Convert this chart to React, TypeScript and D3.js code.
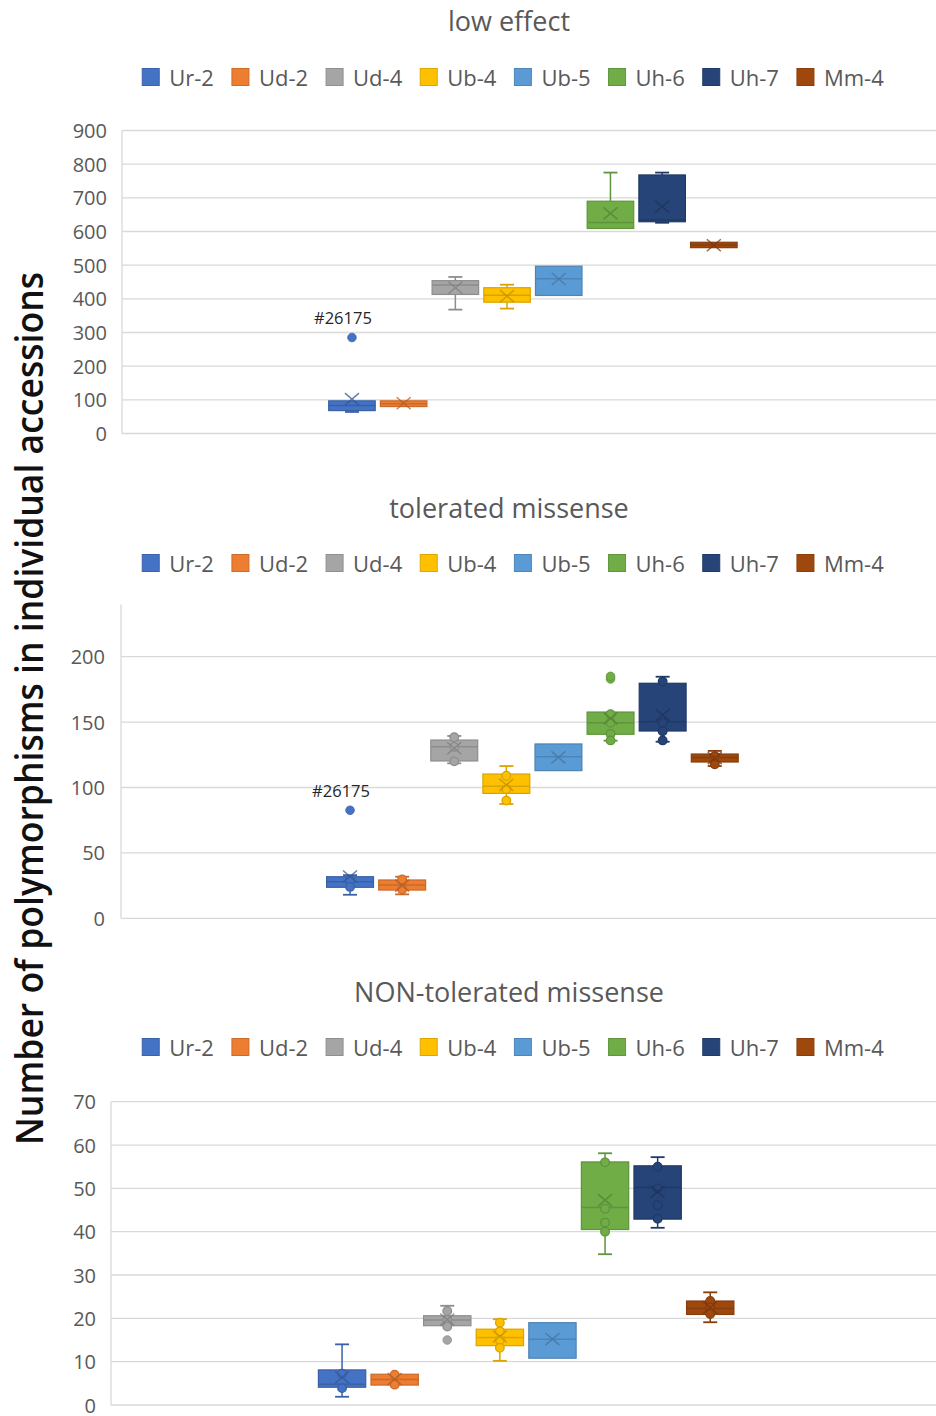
import React, { useEffect, useRef } from "react";
import * as d3 from "d3";

// ---------- data ----------
const seriesNames = ["Ur-2", "Ud-2", "Ud-4", "Ub-4", "Ub-5", "Uh-6", "Uh-7", "Mm-4"];
const seriesColors = ["#4472C4", "#ED7D31", "#A5A5A5", "#FFC000", "#5B9BD5", "#70AD47", "#264478", "#9E480E"];

const yAxisTitle = "Number of polymorphisms in individual accessions";
const outlierLabel = "#26175";

// panel 1: low effect
const lowTicks = [0, 100, 200, 300, 400, 500, 600, 700, 800, 900];
const lowMin = [64, 80, 368, 371, 410, 609, 626, 552];
const lowQ1 = [68, 80, 413, 390, 410, 609, 629, 552];
const lowMedian = [83, 88, 441, 411, 460, 627, 634, 560];
const lowQ3 = [97, 97, 454, 433, 497, 690, 768, 568];
const lowMax = [97, 97, 465, 442, 497, 775, 775, 568];
const lowMean = [102, 90, 433, 408, 459, 654, 674, 559];
const lowPoints: number[][] = [[], [], [], [], [], [], [], []];
const lowOutliers: number[][] = [[285], [], [], [], [], [], [], []];

// panel 2: tolerated missense
const tolTicks = [0, 50, 100, 150, 200];
const tolMin = [18, 18.3, 118.5, 87.4, 112.9, 135.8, 135, 116.4];
const tolQ1 = [23.7, 21.6, 120.3, 95.5, 112.9, 140.7, 143.2, 119.5];
const tolMedian = [28, 25.5, 131.2, 101, 123.5, 149.6, 150.3, 123];
const tolQ3 = [31.8, 29.3, 136.3, 110.3, 133.3, 157.7, 179.7, 125.6];
const tolMax = [33, 31.8, 139.4, 116.4, 133.3, 157.7, 184.7, 128];
const tolMean = [32, 25, 130, 102, 123, 152.9, 155.4, 122.5];
const tolPoints: number[][] = [
  [29, 24], [29.7, 22], [138.4, 131, 120], [109, 98.8, 90], [],
  [156, 149.6, 141, 136], [181, 149.6, 143, 136], [124, 117.7],
];
const tolOutliers: number[][] = [[82.6], [], [], [], [], [183, 185], [], []];

// panel 3: NON-tolerated missense
const ntTicks = [0, 10, 20, 30, 40, 50, 60, 70];
const ntMin = [1.9, 4.6, 18.3, 10.2, 10.8, 34.8, 40.9, 19.1];
const ntQ1 = [4.1, 4.6, 18.3, 13.7, 10.8, 40.5, 42.9, 20.9];
const ntMedian = [4.8, 5.9, 19.6, 15.6, 15.2, 45.6, 50.2, 22.3];
const ntQ3 = [8.1, 7.1, 20.6, 17.5, 19, 56.1, 55.2, 24];
const ntMax = [14, 7.1, 22.9, 19.8, 19, 58.1, 57.2, 26];
const ntMean = [6.4, 6, 19.7, 15.8, 15.2, 47.3, 49.2, 22.5];
const ntPoints: number[][] = [
  [7.2, 3.9], [7, 4.7], [21.7, 19.6, 18.1], [19, 17, 15, 13.2], [],
  [56, 45.3, 42.1, 40], [55, 50, 46.1, 43], [24, 22.5, 21],
];
const ntOutliers: number[][] = [[], [], [15], [], [], [], [], []];

// ---------- layout ----------
const panels = [
  {
    title: "low effect", titleY: 20, legendY: 77,
    axisX: 122, plotRight: 944, yBottom: 433.5, yTop: 130.5, axisMax: 900, ticks: lowTicks,
    band: [328.7, 737.1], labelRight: 107,
    min: lowMin, q1: lowQ1, median: lowMedian, q3: lowQ3, max: lowMax, mean: lowMean,
    points: lowPoints, outliers: lowOutliers,
  },
  {
    title: "tolerated missense", titleY: 507, legendY: 563,
    axisX: 121, plotRight: 944, yBottom: 918.3, yTop: 604.4, axisMax: 240, ticks: tolTicks,
    band: [326.6, 738.2], labelRight: 105,
    min: tolMin, q1: tolQ1, median: tolMedian, q3: tolQ3, max: tolMax, mean: tolMean,
    points: tolPoints, outliers: tolOutliers,
  },
  {
    title: "NON-tolerated missense", titleY: 991, legendY: 1047,
    axisX: 111, plotRight: 941, yBottom: 1405, yTop: 1101.7, axisMax: 70, ticks: ntTicks,
    band: [318.4, 733.9], labelRight: 96,
    min: ntMin, q1: ntQ1, median: ntMedian, q3: ntQ3, max: ntMax, mean: ntMean,
    points: ntPoints, outliers: ntOutliers,
  },
];

const FONT = "'Open Sans', 'Noto Sans', sans-serif";
const GRID = "#D9D9D9";
const TEXT = "#595959";

function drawPanel(svg: any, p: any) {
  const g = svg.append("g");
  const y = d3.scaleLinear().domain([0, p.axisMax]).range([p.yBottom, p.yTop]);
  const x = d3.scaleBand<string>().domain(seriesNames).range(p.band).paddingInner(0.1);
  const bw = x.bandwidth();

  // gridlines
  g.selectAll("line.grid").data(p.ticks).join("line")
    .attr("x1", p.axisX).attr("x2", p.plotRight)
    .attr("y1", (d: number) => y(d)).attr("y2", (d: number) => y(d))
    .attr("stroke", GRID).attr("stroke-width", 1.3);
  // vertical axis line
  g.append("line").attr("x1", p.axisX).attr("x2", p.axisX)
    .attr("y1", y(0)).attr("y2", y(p.axisMax))
    .attr("stroke", GRID).attr("stroke-width", 1.3);
  // tick labels
  g.selectAll("text.tick").data(p.ticks).join("text")
    .attr("x", p.labelRight).attr("y", (d: number) => y(d))
    .attr("text-anchor", "end").attr("dominant-baseline", "central")
    .attr("font-family", FONT).attr("font-size", 20).attr("fill", TEXT)
    .text((d: number) => String(d));

  // title
  g.append("text").attr("x", 509).attr("y", p.titleY)
    .attr("text-anchor", "middle").attr("dominant-baseline", "central")
    .attr("font-family", FONT).attr("font-size", 27).attr("fill", TEXT)
    .text(p.title);

  // legend
  const lg = g.append("g");
  const items: { w: number; node: any }[] = [];
  seriesNames.forEach((name, i) => {
    const it = lg.append("g");
    it.append("rect").attr("x", 0).attr("y", -8.5).attr("width", 17).attr("height", 17)
      .attr("fill", seriesColors[i]).attr("stroke", d3.color(seriesColors[i])!.darker(0.4).toString())
      .attr("stroke-width", 1);
    const t = it.append("text").attr("x", 27).attr("y", 0).attr("dominant-baseline", "central")
      .attr("font-family", FONT).attr("font-size", 22).attr("fill", TEXT).text(name);
    const tw = (t.node() as SVGTextElement).getComputedTextLength();
    items.push({ w: 27 + tw, node: it });
  });
  const gap = 18;
  const total = d3.sum(items, (d) => d.w) + gap * (items.length - 1);
  let cx = 513 - total / 2;
  items.forEach((it) => {
    it.node.attr("transform", `translate(${cx},${p.legendY})`);
    cx += it.w + gap;
  });

  // boxes
  seriesNames.forEach((name, i) => {
    const c = seriesColors[i];
    const dark = d3.color(c)!.darker(0.45).toString();
    const darker = d3.color(c)!.darker(0.8).toString();
    const x0 = x(name)!;
    const xc = x0 + bw / 2;
    const bg = g.append("g");
    const cap = 7;
    // whiskers
    if (p.max[i] > p.q3[i]) {
      bg.append("line").attr("x1", xc).attr("x2", xc).attr("y1", y(p.q3[i])).attr("y2", y(p.max[i]))
        .attr("stroke", dark).attr("stroke-width", 1.5);
      bg.append("line").attr("x1", xc - cap).attr("x2", xc + cap).attr("y1", y(p.max[i])).attr("y2", y(p.max[i]))
        .attr("stroke", dark).attr("stroke-width", 1.8);
    }
    if (p.min[i] < p.q1[i]) {
      bg.append("line").attr("x1", xc).attr("x2", xc).attr("y1", y(p.q1[i])).attr("y2", y(p.min[i]))
        .attr("stroke", dark).attr("stroke-width", 1.5);
      bg.append("line").attr("x1", xc - cap).attr("x2", xc + cap).attr("y1", y(p.min[i])).attr("y2", y(p.min[i]))
        .attr("stroke", dark).attr("stroke-width", 1.8);
    }
    // box
    bg.append("rect").attr("x", x0).attr("width", bw)
      .attr("y", y(p.q3[i])).attr("height", Math.max(1, y(p.q1[i]) - y(p.q3[i])))
      .attr("fill", c).attr("stroke", dark).attr("stroke-width", 1.2);
    // median
    bg.append("line").attr("x1", x0).attr("x2", x0 + bw).attr("y1", y(p.median[i])).attr("y2", y(p.median[i]))
      .attr("stroke", dark).attr("stroke-width", 1.5);
    // inner points
    bg.selectAll("circle.pt").data(p.points[i]).join("circle")
      .attr("cx", xc).attr("cy", (d: number) => y(d)).attr("r", 4.3)
      .attr("fill", c).attr("stroke", dark).attr("stroke-width", 1.3);
    // mean X
    const my = y(p.mean[i]);
    bg.append("path")
      .attr("d", `M${xc - 7},${my - 6}L${xc + 7},${my + 6}M${xc - 7},${my + 6}L${xc + 7},${my - 6}`)
      .attr("stroke", darker).attr("stroke-width", 1.5).attr("fill", "none").attr("opacity", 0.75);
    // outliers
    bg.selectAll("circle.out").data(p.outliers[i]).join("circle")
      .attr("cx", xc).attr("cy", (d: number) => y(d)).attr("r", 4.3)
      .attr("fill", c).attr("stroke", dark).attr("stroke-width", 0.8);
    if (i === 0 && p.outliers[i].length) {
      bg.append("text").attr("x", xc - 9).attr("y", y(p.outliers[i][0]) - 20)
        .attr("text-anchor", "middle").attr("dominant-baseline", "central")
        .attr("font-family", FONT).attr("font-size", 16.5).attr("fill", "#262626")
        .text(outlierLabel);
    }
  });
}

export default function App() {
  const ref = useRef<SVGSVGElement>(null);
  useEffect(() => {
    const svg = d3.select(ref.current!);
    svg.selectAll("*").remove();
    svg.append("rect").attr("width", 936).attr("height", 1416).attr("fill", "#fff");
    panels.forEach((p) => drawPanel(svg, p));
    svg.append("text")
      .attr("transform", "translate(43,708.5) rotate(-90)")
      .attr("text-anchor", "middle")
      .attr("font-family", FONT).attr("font-size", 38).attr("font-weight", 600).attr("fill", "#111")
      .attr("textLength", 873).attr("lengthAdjust", "spacingAndGlyphs")
      .text(yAxisTitle);
  }, []);
  return (
    <svg ref={ref} width={936} height={1416}
      style={{ position: "absolute", left: 0, top: 0, display: "block" }} />
  );
}
